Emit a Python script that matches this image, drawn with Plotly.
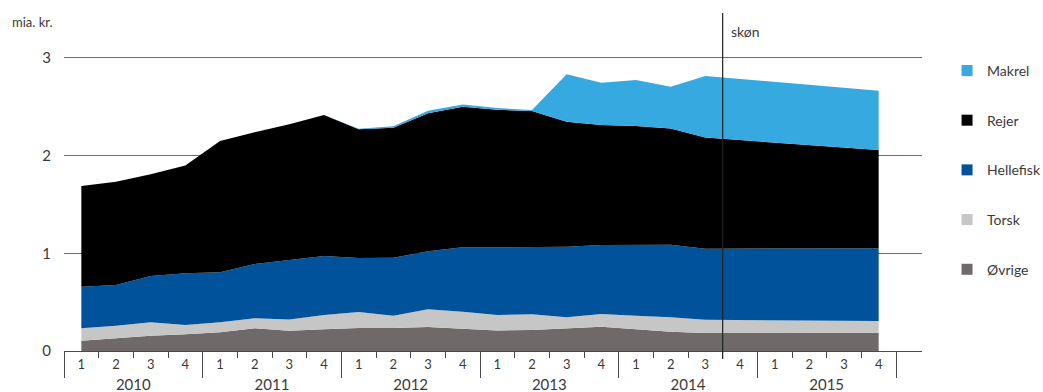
import plotly.graph_objects as go

# Quarterly export values (mia. kr.) by species; 2015K4 is an estimate (skøn)
periods = ["2010K1", "2010K2", "2010K3", "2010K4",
           "2011K1", "2011K2", "2011K3", "2011K4",
           "2012K1", "2012K2", "2012K3", "2012K4",
           "2013K1", "2013K2", "2013K3", "2013K4",
           "2014K1", "2014K2", "2014K3", "2015K4"]

ovrige = [0.105, 0.133, 0.157, 0.171, 0.191, 0.232, 0.207, 0.222, 0.235, 0.235,
          0.245, 0.228, 0.210, 0.215, 0.232, 0.249, 0.222, 0.198, 0.184, 0.187]
torsk = [0.127, 0.126, 0.137, 0.095, 0.103, 0.103, 0.115, 0.146, 0.164, 0.127,
         0.182, 0.174, 0.158, 0.160, 0.113, 0.130, 0.140, 0.147, 0.136, 0.120]
hellefisk = [0.426, 0.416, 0.474, 0.529, 0.511, 0.555, 0.609, 0.604, 0.553, 0.593,
             0.593, 0.659, 0.693, 0.686, 0.723, 0.706, 0.726, 0.743, 0.727, 0.744]
rejer = [1.031, 1.058, 1.042, 1.105, 1.345, 1.350, 1.389, 1.443, 1.318, 1.331,
         1.413, 1.439, 1.409, 1.395, 1.279, 1.228, 1.215, 1.189, 1.138, 1.006]
makrel = [0.0, 0.0, 0.0, 0.0, 0.0, 0.0, 0.0, 0.0, 0.005, 0.014,
          0.027, 0.024, 0.017, 0.010, 0.485, 0.433, 0.471, 0.428, 0.630, 0.607]

years = ["2010", "2011", "2012", "2013", "2014", "2015"]
quarter_labels = ["1", "2", "3", "4"]
y_ticks = [0, 1, 2, 3]
forecast_from = "2014K4"

series = [
    ("Øvrige", ovrige, "#6f6a69"),
    ("Torsk", torsk, "#c6c6c6"),
    ("Hellefisk", hellefisk, "#00529b"),
    ("Rejer", rejer, "#000000"),
    ("Makrel", makrel, "#36a9e0"),
]

FONT = "Lato, 'Open Sans', sans-serif"
TEXT = "#3a3a3a"
AXIS = "#4a4a4a"


def period_pos(p):
    """Quarter index counted from 2010K1."""
    return (int(p[:4]) - int(years[0])) * 4 + int(p[-1]) - 1


xs = [period_pos(p) for p in periods]
n_q = len(years) * 4
x_range = [-0.5, -0.5 + n_q * 858 / 832]

fig = go.Figure()

for name, vals, color in series:
    fig.add_trace(go.Scatter(
        x=xs, y=vals, name=name, stackgroup="s", mode="lines",
        line=dict(width=0, color=color), fillcolor=color,
        showlegend=False, hoverinfo="skip",
    ))

# legend swatches (top entry first)
for name, vals, color in reversed(series):
    fig.add_trace(go.Scatter(
        x=[None], y=[None], name=name, mode="markers", xaxis="x2",
        marker=dict(symbol="square", size=11, color=color),
        legendgroup=name, showlegend=True,
    ))

q_centers = list(range(n_q))
fig.update_layout(
    width=1043, height=392,
    margin=dict(l=64, r=121, t=13, b=41, autoexpand=False),
    plot_bgcolor="white", paper_bgcolor="white",
    font=dict(family=FONT, color=TEXT, size=13),
    showlegend=True,
    legend=dict(
        xref="container", yref="container", x=0.908, y=0.86,
        xanchor="left", yanchor="top", maxheight=1.0,
        font=dict(size=14, color=TEXT), tracegroupgap=28.5,
        bgcolor="rgba(0,0,0,0)", itemclick=False,
    ),
    xaxis=dict(
        range=x_range, showgrid=False, zeroline=False, automargin=False,
        showline=True, linecolor=AXIS, linewidth=1,
        tickmode="array", tickvals=q_centers,
        ticktext=[quarter_labels[i % 4] for i in q_centers],
        ticks="", tickfont=dict(size=13, color=TEXT), ticklabelstandoff=1,
        minor=dict(tickmode="array",
                   tickvals=[i + 0.5 for i in range(n_q - 1)],
                   ticks="outside", ticklen=6, tickcolor=AXIS, tickwidth=1),
    ),
    xaxis2=dict(
        range=x_range, overlaying="x", anchor="y", side="bottom",
        showgrid=False, zeroline=False, showline=False, automargin=False,
        tickmode="array", tickvals=[4 * i + 1.5 for i in range(len(years))],
        ticktext=years, ticks="", tickfont=dict(size=15, color=TEXT),
        ticklabelstandoff=23,
        minor=dict(tickmode="array",
                   tickvals=[4 * i - 0.5 for i in range(len(years) + 1)],
                   ticks="outside", ticklen=26, tickcolor=AXIS, tickwidth=1),
    ),
    yaxis=dict(
        range=[0, 3.46], tickmode="array", tickvals=y_ticks, automargin=False,
        showgrid=True, gridcolor="#6e6e6e", gridwidth=1,
        zeroline=False, showline=False, ticks="",
        tickfont=dict(size=15, color=TEXT), ticklabelstandoff=12,
    ),
)

# forecast divider
skon_x = period_pos(forecast_from) - 0.5
fig.add_shape(type="line", xref="x", yref="paper",
              x0=skon_x, x1=skon_x, y0=-0.024, y1=1.0,
              line=dict(color="#222222", width=1.2), layer="above")
fig.add_annotation(x=skon_x, y=0.944, xref="x", yref="paper",
                   text="skøn", showarrow=False, xanchor="left", yanchor="middle",
                   xshift=6, font=dict(size=14, color=TEXT))
fig.add_annotation(x=-0.063, y=0.973, xref="paper", yref="paper",
                   text="mia. kr.", showarrow=False, xanchor="left", yanchor="middle",
                   font=dict(size=13, color=TEXT))

fig.write_html("out.html")
